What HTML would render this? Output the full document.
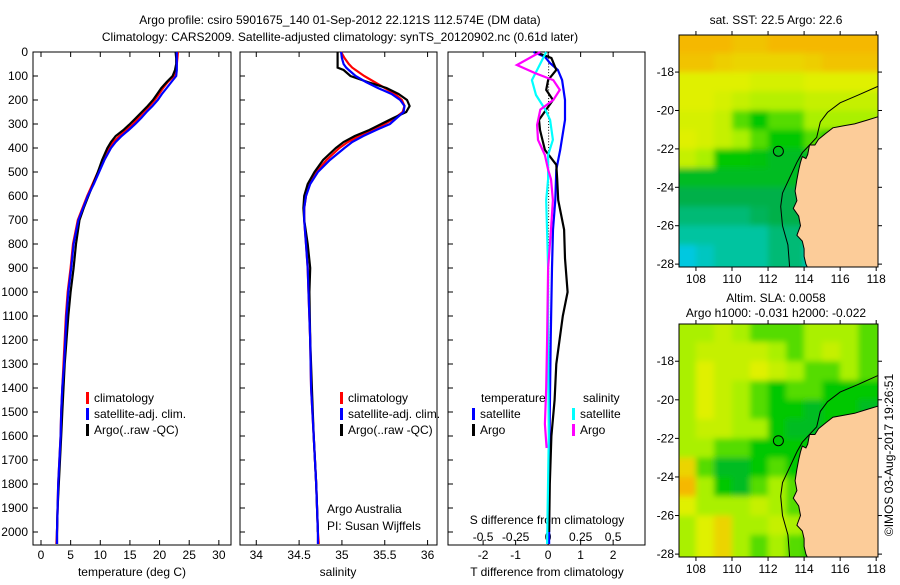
<!DOCTYPE html>
<html><head><meta charset="utf-8">
<style>
body{margin:0;background:#fff;}
svg text{font-family:"Liberation Sans",sans-serif;font-size:12px;fill:#000;}
</style></head>
<body>
<svg id="fig" width="900" height="580" viewBox="0 0 900 580" xmlns="http://www.w3.org/2000/svg">
<defs><filter id="soft" x="-10%" y="-10%" width="120%" height="120%"><feGaussianBlur stdDeviation="3"/></filter></defs>
<text x="340" y="24" text-anchor="middle" font-size="13">Argo profile: csiro 5901675_140 01-Sep-2012 22.121S 112.574E (DM data)</text>
<text x="340" y="41" text-anchor="middle" font-size="13">Climatology: CARS2009. Satellite-adjusted climatology: synTS_20120902.nc (0.61d later)</text>
<g id="g"></g>
</svg>
<script>
// ---------- data ----------
const tDepth=[0,25,50,75,100,125,150,175,200,225,250,275,300,325,350,375,400,450,500,550,600,650,700,800,900,1000,1100,1200,1300,1400,1500,1600,1700,1800,1900,2000,2050];
const tClim=[23.1,23.0,22.9,22.8,22.4,21.4,20.6,19.9,19.2,18.3,17.3,16.4,15.5,14.4,13.2,12.2,11.5,10.5,9.6,8.7,7.8,7.0,6.2,5.4,5.0,4.5,4.2,4.0,3.8,3.6,3.4,3.3,3.1,2.9,2.8,2.7,2.6];
const tSat=[22.9,22.9,22.9,22.9,22.8,22.0,21.2,20.4,19.7,18.8,17.8,16.9,15.9,14.8,13.6,12.6,11.8,10.7,9.8,8.9,7.9,7.1,6.3,5.5,5.1,4.6,4.3,4.1,3.9,3.6,3.4,3.3,3.1,2.9,2.8,2.7,2.7];
const tArgo=[22.7,22.8,22.8,22.6,22.2,21.2,20.3,19.6,18.9,18.0,17.0,16.0,15.0,13.9,12.6,11.8,11.2,10.3,9.6,8.8,8.0,7.2,6.5,5.9,5.5,5.0,4.6,4.3,4.0,3.8,3.6,3.4,3.2,3.0,2.8,2.7,2.7];
const sDepth=[0,25,50,65,75,100,125,150,175,200,225,250,275,300,325,350,375,400,450,500,550,600,650,700,800,900,1000,1200,1400,1600,1800,2000,2050];
const sClim=[34.99,35.03,35.08,35.12,35.16,35.26,35.38,35.5,35.62,35.7,35.73,35.71,35.62,35.5,35.35,35.2,35.07,34.97,34.82,34.7,34.62,34.58,34.56,34.56,34.58,34.6,34.61,34.63,34.64,34.67,34.7,34.72,34.73];
const sSat=[34.99,35.0,35.02,35.05,35.08,35.16,35.28,35.42,35.58,35.68,35.73,35.72,35.64,35.56,35.4,35.25,35.12,35.03,34.86,34.72,34.63,34.58,34.56,34.56,34.58,34.6,34.61,34.63,34.64,34.67,34.7,34.72,34.72];
const sArgo=[34.95,34.95,34.95,34.95,35.02,35.1,35.3,35.52,35.66,35.76,35.79,35.75,35.6,35.46,35.32,35.15,35.02,34.93,34.78,34.68,34.6,34.56,34.55,34.56,34.6,34.63,34.62,34.63,34.65,34.67,34.7,34.72];
const dTSatDepth=[0,20,45,75,117,200,283,408,490,617,740,900,1200,1500,1800,2050];
const dTSat=[-0.45,-0.1,0.05,0.3,0.43,0.52,0.52,0.37,0.25,0.22,0.15,0.12,0.08,0.05,0.03,0.03];
const dTArgoDepth=[0,25,75,117,158,200,240,283,325,408,470,530,617,740,860,1000,1100,1300,1450,1600,1800,2000];
const dTArgo=[-0.4,0.1,0.25,0,-0.06,0.15,-0.06,-0.28,-0.25,-0.1,0.25,0.28,0.31,0.49,0.52,0.6,0.45,0.25,0.2,0.1,0.05,0.03];
const dSArgoDepth=[0,54,88,117,158,200,240,304,366,429,490,530,617,740,900,1200,1400,1550,1650];
const dSArgo=[-0.06,-0.24,-0.1,0.04,0.09,0.04,-0.06,-0.085,-0.078,-0.025,0,0.022,0.037,0.022,0,-0.008,-0.015,-0.025,-0.012];
const dSSatDepth=[0,75,117,179,240,283,366,429,530,617,900,1200,1600,2050];
const dSSat=[-0.015,-0.085,-0.125,-0.093,-0.022,0.015,0.037,0,0,-0.015,0,0,0.005,-0.008];
const depthTicks=[0,100,200,300,400,500,600,700,800,900,1000,1100,1200,1300,1400,1500,1600,1700,1800,1900,2000];
const tTicks=[0,5,10,15,20,25,30];
const sTicks=[34,34.5,35,35.5,36];
const dTTicks=[-2,-1,0,1,2];
const dSTicks=[-0.5,-0.25,0,0.25,0.5];
const sstGrid=[
[6,6,6,5.8,5.8,6,6,6,6.2,6.2,6],
[5.8,5.8,5.6,5.5,5.5,5.5,5.5,5.6,5.8,5.8,5.8],
[5,5,5,5,4.8,4.8,4.8,5,5,5,5],
[5,5,4.8,4.5,4.2,4.2,4.2,4.5,4.5,4.5,4.5],
[4.8,4.8,4.5,3.5,3,3.5,3.5,4,4,4,4],
[5,4.8,4.5,4,3.5,3,3,3.5,3,3,3],
[4.5,4,3,3,2.8,2.5,2.5,2.5,2.5,2.5,2.5],
[2.5,2.5,2.5,2.5,2.5,2.5,2.5,2.5,2.5,2.5,2.5],
[2,2,2,2,2,2,2,2,2,2,2],
[1.5,1.5,1.5,1.5,1.8,2,2,2,2,2,2],
[1,1,1,1,1,1.5,1.5,1.5,1.5,1.5,1.5],
[0,0.5,1,1,1,1.5,1.5,0.5,0.5,0.5,0.5]];
const slaGrid=[
[4,4,4.5,4,3.5,3.5,3.5,4,4,4,3.5],
[4,4.5,4.5,4.5,4.5,4,3.5,4,4.5,4,3.5],
[4,5,4.5,4.5,5,4.5,4,3.5,3.5,4,3.5],
[4,5,4.5,4,3.5,3,3.5,3.5,3,3,3],
[4,5,4.5,4,3.5,3,3,2.5,3,3,2.5],
[4,4.5,4.5,4,4,3,2.5,2.5,3,3,3],
[4,4,3.5,3.5,3,3,3,3,3,3,3],
[5.5,3.5,2.5,2.5,3,3.5,3,3,3,3,3],
[6,4,3,2.5,3.5,4,3.5,3,3,3,3],
[5,4,4,4,4.5,4,3.5,3,3,3,3],
[4,5,5.5,4,4,4.5,4,3,3,3,3],
[4,5,5.5,4,3.5,4,3.5,3,3,3,3]];
const landLon=[118.2,117.5,116.8,116.2,115.6,115.2,114.8,114.6,114.3,114.2,114.1,113.9,113.8,113.7,113.6,113.5,113.6,113.4,113.7,113.8,113.6,113.9,114.0,114.0,114.1,114.2,118.2];
const landLat=[-20.3,-20.5,-20.7,-20.8,-20.9,-21.2,-21.5,-21.8,-21.8,-22.3,-22.5,-22.4,-22.7,-23.1,-23.6,-24.2,-24.7,-25.1,-25.5,-26.0,-26.5,-26.8,-27.2,-27.6,-28.0,-28.2,-28.2];
const shelfLon=[118.2,117,116,115.3,114.9,114.7,114.2,113.9,113.6,113.2,112.8,112.7,112.8,113.1,113.2];
const shelfLat=[-18.7,-19.2,-19.6,-20.1,-20.6,-21.4,-21.9,-22.2,-22.7,-23.5,-24.3,-25.0,-26.0,-27.0,-28.2];
const argoLon=112.574, argoLat=-22.121;
const lonTicks=[108,110,112,114,116,118];
const latTicks=[-18,-20,-22,-24,-26,-28];

// ---------- helpers ----------
const NS="http://www.w3.org/2000/svg";
const G=document.getElementById('g');
function mk(tag,attrs,parent){const e=document.createElementNS(NS,tag);for(const k in attrs)e.setAttribute(k,attrs[k]);(parent||G).appendChild(e);return e;}
const Y0=52,Y1=545;
const yD=d=>Y0+d*0.24;
function panel(name,x0,x1,vmin,vmax){return {name,x0,x1,x:v=>x0+(v-vmin)/(vmax-vmin)*(x1-x0)};}
const P1=panel('temperature',33,231,-1.35,32.05);
const P2=panel('salinity',240,437,33.81,36.11);
const P3=panel('difference',448,645,-3.08,2.98);
const sx3=v=>P3.x(v*4);

[P1,P2,P3].forEach(p=>{
  const r=mk('rect',{x:p.x0,y:Y0,width:p.x1-p.x0,height:Y1-Y0,fill:'#fff',stroke:'#000','stroke-width':1});
  
  
  depthTicks.forEach(d=>{
    const t=mk('line',{x1:p.x0,x2:p.x0+5,y1:yD(d),y2:yD(d),stroke:'#000'});
    
    
  });
});
depthTicks.forEach(d=>{
  const t=mk('text',{x:28,y:yD(d)+4,'text-anchor':'end'});
  t.textContent=d;
  
  
});
function xTicks(p,ticks,fx,labelY,withLabels){
  ticks.forEach(v=>{
    const x=fx(v);
    const a=mk('line',{x1:x,x2:x,y1:Y0,y2:Y0+5,stroke:'#000'});
    
    
    const b=mk('line',{x1:x,x2:x,y1:Y1,y2:Y1-5,stroke:'#000'});
    
    
    if(withLabels){
      const t=mk('text',{x:x,y:labelY,'text-anchor':'middle'});
      t.textContent=v;
      
      
    }
  });
}
xTicks(P1,tTicks,P1.x,559,true);
xTicks(P2,sTicks,P2.x,559,true);
xTicks(P3,dTTicks,P3.x,559,true);
dSTicks.forEach(v=>{
  const t=mk('text',{x:sx3(v),y:541,'text-anchor':'middle'});
  t.textContent=v;
  
  
});
function label(txt,x,y,name,anchor){const t=mk('text',{x:x,y:y,'text-anchor':anchor||'middle'});t.textContent=txt;return t;}
label('temperature (deg C)',132,576,'x-axis-title-temperature');
label('salinity',338,576,'x-axis-title-salinity');
label('T difference from climatology',547,576,'x-axis-title-t-difference');
label('S difference from climatology',547,524,'s-difference-axis-title');
label('Argo Australia',327,513,'credit-argo-australia','start');
label('PI: Susan Wijffels',327,530,'credit-pi','start');

for(let d=0;d<2050;d+=12){
  const z=mk('rect',{x:P3.x(0),y:yD(d),width:1,height:1,fill:'#000'});
  
  
}
function line(depths,vals,fx,color,name){
  const pts=depths.map((d,i)=>fx(vals[i]).toFixed(1)+','+yD(d).toFixed(1)).join(' ');
  const l=mk('polyline',{points:pts,fill:'none',stroke:color,'stroke-width':2.2,'stroke-linejoin':'miter'});
  
  
}
line(tDepth,tClim,P1.x,'#f00','temperature-climatology-line');
line(tDepth,tArgo,P1.x,'#000','temperature-argo-line');
line(tDepth,tSat,P1.x,'#00f','temperature-satellite-line');
line(sDepth,sClim,P2.x,'#f00','salinity-climatology-line');
line(sDepth.slice(0,sArgo.length),sArgo,P2.x,'#000','salinity-argo-line');
line(sDepth,sSat,P2.x,'#00f','salinity-satellite-line');
line(dTSatDepth,dTSat,P3.x,'#00f','t-diff-satellite-line');
line(dTArgoDepth,dTArgo,P3.x,'#000','t-diff-argo-line');
line(dSSatDepth,dSSat,sx3,'#0ff','s-diff-satellite-line');
line(dSArgoDepth,dSArgo,sx3,'#f0f','s-diff-argo-line');

function legendEntry(x,y,color,txt,name){
  const r=mk('rect',{x:x,y:y-10,width:3,height:12,fill:color});
  
  
  label(txt,x+8,y,name,'start');
}
[[86,'#f00','climatology'],[86,'#00f','satellite-adj. clim.'],[86,'#000','Argo(..raw -QC)']].forEach((e,i)=>legendEntry(e[0],402+i*16,e[1],e[2],'legend-temp-'+i));
[[340,'#f00','climatology'],[340,'#00f','satellite-adj. clim.'],[340,'#000','Argo(..raw -QC)']].forEach((e,i)=>legendEntry(e[0],402+i*16,e[1],e[2],'legend-sal-'+i));
label('temperature',481,402,'legend-diff-temperature-heading','start');
label('salinity',583,402,'legend-diff-salinity-heading','start');
legendEntry(472,418,'#00f','satellite','legend-diff-t-satellite');
legendEntry(472,434,'#000','Argo','legend-diff-t-argo');
legendEntry(572,418,'#0ff','satellite','legend-diff-s-satellite');
legendEntry(572,434,'#f0f','Argo','legend-diff-s-argo');

// ---------- maps ----------
const stops=[[-1,[32,144,255]],[0,[0,200,224]],[1,[0,196,160]],[2,[0,176,72]],[3,[0,200,0]],[4,[170,240,0]],[5,[224,240,0]],[6,[245,184,0]]];
function col(v){for(let i=0;i<stops.length-1;i++){const a=stops[i],b=stops[i+1];if(v<=b[0]||i==stops.length-2){const t=Math.max(0,Math.min(1,(v-a[0])/(b[0]-a[0])));return 'rgb('+a[1].map((c,k)=>Math.round(c+(b[1][k]-c)*t)).join(',')+')';}}}
function map(grid,top,bottom,name){
  const X0=679,X1=878,lonMin=107.06,lonMax=118.1,latMax=-16.07,latMin=-28.15;
  const mx=lo=>X0+(lo-lonMin)/(lonMax-lonMin)*(X1-X0);
  const my=la=>top+(latMax-la)/(latMax-latMin)*(bottom-top);
  const cp=mk('clipPath',{id:'clip-'+name});
  mk('rect',{x:X0,y:top,width:X1-X0,height:bottom-top},cp);
  const g=mk('g',{'clip-path':'url(#clip-'+name+')'});
  
  
  const cells=mk('g',{filter:'url(#soft)'},g);
  const nR=grid.length,nC=grid[0].length,pad=14;
  grid.forEach((row,r)=>row.forEach((v,c)=>{
    let x=mx(107+c),y=my(-16-r);
    let w=mx(108)-mx(107)+0.5,h=my(-17)-my(-16)+0.5;
    if(c===0){x-=pad;w+=pad;}
    if(c===nC-1){w+=pad;}
    if(r===0){y-=pad;h+=pad;}
    if(r===nR-1){h+=pad;}
    const cell=mk('rect',{x:x.toFixed(1),y:y.toFixed(1),width:w.toFixed(1),height:h.toFixed(1),fill:col(v)},cells);
    
    
  }));
  const land=mk('polygon',{points:landLon.map((lo,i)=>mx(lo).toFixed(1)+','+my(landLat[i]).toFixed(1)).join(' '),fill:'#fccc99',stroke:'#000','stroke-width':1},g);
  
  
  const sh=mk('polyline',{points:shelfLon.map((lo,i)=>mx(lo).toFixed(1)+','+my(shelfLat[i]).toFixed(1)).join(' '),fill:'none',stroke:'#000','stroke-width':1},g);
  
  
  const c=mk('circle',{cx:mx(argoLon),cy:my(argoLat),r:5,fill:'none',stroke:'#000','stroke-width':1},g);
  
  
  const fr=mk('rect',{x:X0,y:top,width:X1-X0,height:bottom-top,fill:'none',stroke:'#000'});
  
  
  lonTicks.forEach(lo=>{
    const a=mk('line',{x1:mx(lo),x2:mx(lo),y1:top,y2:top-4,stroke:'#000'});
    
    
    const b=mk('line',{x1:mx(lo),x2:mx(lo),y1:bottom,y2:bottom+4,stroke:'#000'});
    
    
    label(String(lo),mx(lo),bottom+16,'lon-tick-label');
  });
  latTicks.forEach(la=>{
    const a=mk('line',{x1:X0,x2:X0-4,y1:my(la),y2:my(la),stroke:'#000'});
    
    
    const b=mk('line',{x1:X1,x2:X1+4,y1:my(la),y2:my(la),stroke:'#000'});
    
    
    label(String(la),674,my(la)+4,'lat-tick-label','end');
  });
}
map(sstGrid,35,267,'sst');
map(slaGrid,324,557,'sla');
label('sat. SST: 22.5 Argo: 22.6',776,24,'sst-map-title');
label('Altim. SLA: 0.0058',776,302,'sla-map-title-1');
label('Argo h1000: -0.031 h2000: -0.022',776,317,'sla-map-title-2');
const rt=label('©IMOS 03-Aug-2017 19:26:51',0,0,'timestamp-credit');
rt.setAttribute('transform','translate(893,455) rotate(-90)');
</script>
</body></html>
